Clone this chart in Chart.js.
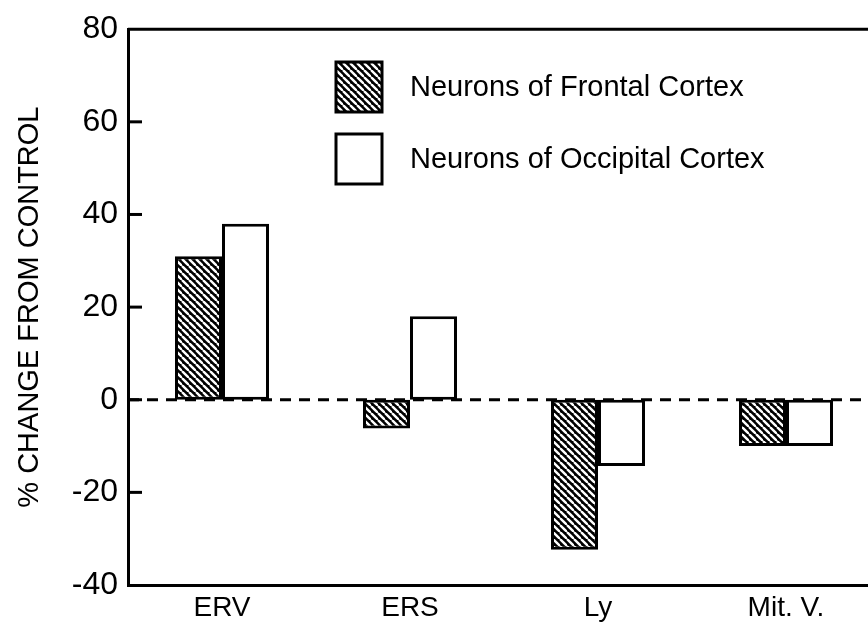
<!DOCTYPE html>
<html>
<head>
<meta charset="utf-8">
<script src="https://cdn.jsdelivr.net/npm/chart.js@4/dist/chart.umd.min.js"></script>
<style>
  html, body { margin: 0; padding: 0; background: #fff; overflow: hidden; }
  #wrap { width: 900px; height: 627px; }
</style>
</head>
<body>
<div id="wrap"><canvas id="c" width="900" height="627"></canvas></div>
<script>
const categories = ['ERV', 'ERS', 'Ly', 'Mit. V.'];
const frontal = [31, -6.2, -32.4, -10];
const occipital = [38, 18, -14.3, -10];
const seriesLabels = ['Neurons of Frontal Cortex', 'Neurons of Occipital Cortex'];
const yMin = -40, yMax = 80, yStep = 20;
const yTitle = '% CHANGE FROM CONTROL';

const FONT = "'Liberation Sans', Arial, sans-serif";

function makeHatch() {
  const s = 7;
  const c = document.createElement('canvas');
  c.width = s; c.height = s;
  const g = c.getContext('2d');
  g.fillStyle = '#000';
  g.fillRect(0, 0, s, s);
  g.strokeStyle = '#fff';
  g.lineWidth = 2.4;
  for (const x0 of [-s, 0, s]) {
    g.beginPath();
    g.moveTo(x0, 0);
    g.lineTo(x0 + s, s);
    g.stroke();
  }
  return document.getElementById('c').getContext('2d').createPattern(c, 'repeat');
}
const hatch = makeHatch();

const framePlugin = {
  id: 'frame',
  beforeDatasetsDraw(chart) {
    const { ctx, chartArea, scales } = chart;
    const y0 = scales.y.getPixelForValue(0);
    ctx.save();
    ctx.strokeStyle = '#000';
    ctx.lineWidth = 3;
    ctx.setLineDash([11, 8]);
    ctx.beginPath();
    ctx.moveTo(chartArea.left, y0);
    ctx.lineTo(chartArea.right, y0);
    ctx.stroke();
    ctx.restore();
  },
  afterDraw(chart) {
    const { ctx, chartArea, scales } = chart;
    ctx.save();
    ctx.strokeStyle = '#000';
    ctx.lineWidth = 3;
    ctx.beginPath();
    ctx.moveTo(chartArea.left, chartArea.top);
    ctx.lineTo(chartArea.right, chartArea.top);
    ctx.stroke();
    scales.y.ticks.forEach(t => {
      if (t.value === yMin || t.value === yMax) return;
      const py = scales.y.getPixelForValue(t.value);
      ctx.beginPath();
      ctx.moveTo(chartArea.left, py);
      ctx.lineTo(chartArea.left + 14, py);
      ctx.stroke();
    });
    const boxX = 336, boxW = 46, boxH = 50;
    const rows = [62, 134];
    ctx.font = "29px " + FONT;
    ctx.textBaseline = 'middle';
    ctx.textAlign = 'left';
    chart.data.datasets.forEach((ds, i) => {
      const by = rows[i];
      ctx.fillStyle = ds.backgroundColor;
      ctx.fillRect(boxX, by, boxW, boxH);
      ctx.strokeStyle = '#000';
      ctx.lineWidth = 3;
      ctx.strokeRect(boxX, by, boxW, boxH);
      ctx.fillStyle = '#000';
      ctx.fillText(ds.label, 410, by + boxH / 2 + 1);
    });
    ctx.restore();
  }
};

new Chart(document.getElementById('c'), {
  type: 'bar',
  data: {
    labels: categories,
    datasets: [
      {
        label: seriesLabels[0],
        data: frontal,
        backgroundColor: hatch,
        borderColor: '#000',
        borderWidth: 3,
        borderSkipped: false,
        categoryPercentage: 0.5,
        barPercentage: 1.0
      },
      {
        label: seriesLabels[1],
        data: occipital,
        backgroundColor: '#ffffff',
        borderColor: '#000',
        borderWidth: 3,
        borderSkipped: false,
        categoryPercentage: 0.5,
        barPercentage: 1.0
      }
    ]
  },
  options: {
    responsive: false,
    animation: false,
    devicePixelRatio: 1,
    layout: { padding: { top: 23, right: 20, left: 0, bottom: 0 } },
    plugins: {
      legend: { display: false },
      tooltip: { enabled: false }
    },
    scales: {
      x: {
        grid: { display: false, drawTicks: false },
        border: { display: true, color: '#000', width: 3 },
        ticks: { color: '#000', font: { family: FONT, size: 28 }, padding: 6 },
        afterFit(scale) { scale.height = 42; }
      },
      y: {
        min: yMin,
        max: yMax,
        grid: { display: false, drawTicks: false },
        border: { display: true, color: '#000', width: 3 },
        ticks: { stepSize: yStep, color: '#000', font: { family: FONT, size: 32 }, padding: 10 },
        title: {
          display: true,
          text: yTitle,
          color: '#000',
          font: { family: FONT, size: 29 },
          padding: { top: 13, bottom: 0 }
        },
        afterFit(scale) { scale.width = 128; }
      }
    }
  },
  plugins: [framePlugin]
});
</script>
</body>
</html>
